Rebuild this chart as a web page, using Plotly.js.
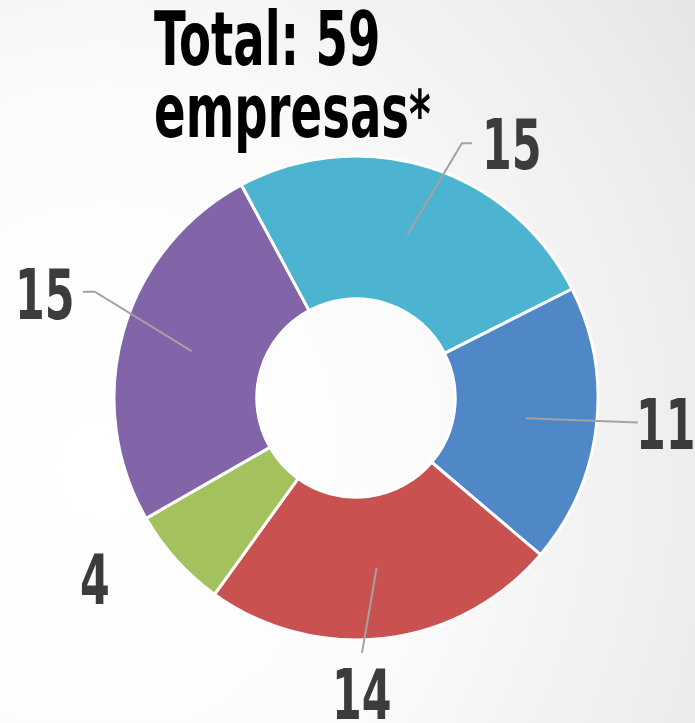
<!DOCTYPE html>
<html>
<head>
<meta charset="utf-8">
<script src="https://cdn.plot.ly/plotly-3.0.1.min.js"></script>
<style>
  html, body { margin: 0; padding: 0; }
  body {
    width: 695px; height: 723px; overflow: hidden;
    background: radial-gradient(ellipse 110% 120% at 15% 65%, #ffffff 0%, #fcfcfc 40%, #eaeaea 85%, #e1e1e1 100%);
  }
  #chart { width: 695px; height: 723px; }
</style>
</head>
<body>
<div id="chart"></div>
<script>
// ---- data ----
const categories = ['A', 'B', 'C', 'D', 'E'];
const values = [15, 11, 14, 4, 15];
const colors = ['#4cb3d0', '#5087c7', '#c9514f', '#a3c15c', '#8165a8'];
const titleLine1 = 'Total: 59';
const titleLine2 = 'empresas<span style="font-size:66px">*</span>';

// ---- geometry / style ----
const W = 695, H = 723;
const cx = 356, cy = 398, R = 242;
const rotation = -28.3;
const labelFont = "'DejaVu Sans Condensed', 'Liberation Sans Narrow', Impact, sans-serif";
const labelSize = 70, labelSqueeze = 0.68;
const titleSize = 74, titleSqueeze = 0.70;
const labelR = [297, 311, 297, 318, 328];
const labelShift = [14.3, -1.8, 5.8, 7.2, 2.4];
const showLine = [true, true, true, false, true];
const elbowR = [276, 283, 255, 0, 282];
const elbowShift = [5.1, -1.8, 5.6, 0, 6.2];
const stubPx = [10, 0, 0, 0, -12];
const lineStartR = 171;

function P(r, deg) {
  const t = deg * Math.PI / 180;
  return [(cx + r * Math.sin(t)) / W, 1 - (cy - r * Math.cos(t)) / H];
}

const total = values.reduce((a, b) => a + b, 0);
let cum = 0;
const annotations = [];
const shapes = [];
const squeeze = [];
values.forEach((v, i) => {
  const mid = rotation + 360 * (cum + v / 2) / total;
  cum += v;
  const lp = P(labelR[i], mid + labelShift[i]);
  annotations.push({
    xref: 'paper', yref: 'paper', x: lp[0], y: lp[1],
    xanchor: 'center', yanchor: 'middle', showarrow: false,
    text: String(v),
    font: { family: labelFont, size: labelSize, color: '#3c3c3c', weight: 'bold' }
  });
  squeeze.push({ s: labelSqueeze, anchor: 'center' });
  if (showLine[i]) {
    const s = P(lineStartR, mid);
    const e = P(elbowR[i], mid + elbowShift[i]);
    let path = `M ${s[0]} ${s[1]} L ${e[0]} ${e[1]}`;
    if (stubPx[i] !== 0) path += ` L ${e[0] + stubPx[i] / W} ${e[1]}`;
    shapes.push({ type: 'path', xref: 'paper', yref: 'paper', path: path,
      line: { color: '#a3a3a3', width: 2 } });
  }
});

annotations.push({
  xref: 'paper', yref: 'paper', x: 152 / W, y: 1 - (65 - 0.35 * titleSize) / H,
  xanchor: 'left', yanchor: 'middle', showarrow: false, text: titleLine1,
  font: { family: labelFont, size: titleSize, color: '#000000', weight: 'bold' }
});
squeeze.push({ s: titleSqueeze, anchor: 'left' });
annotations.push({
  xref: 'paper', yref: 'paper', x: 152 / W, y: 1 - (137 - 0.35 * titleSize) / H,
  xanchor: 'left', yanchor: 'middle', showarrow: false, text: titleLine2,
  font: { family: labelFont, size: titleSize, color: '#000000', weight: 'bold' }
});
squeeze.push({ s: titleSqueeze, anchor: 'left' });

const trace = {
  type: 'pie',
  labels: categories,
  values: values,
  sort: false,
  direction: 'clockwise',
  rotation: rotation,
  hole: 0.41,
  textinfo: 'none',
  hoverinfo: 'none',
  marker: { colors: colors, line: { color: '#ffffff', width: 3 } },
  domain: { x: [(cx - R) / W, (cx + R) / W], y: [1 - (cy + R) / H, 1 - (cy - R) / H] },
  showlegend: false
};

const layout = {
  width: W, height: H,
  margin: { l: 0, r: 0, t: 0, b: 0 },
  paper_bgcolor: 'rgba(0,0,0,0)',
  plot_bgcolor: 'rgba(0,0,0,0)',
  showlegend: false,
  annotations: annotations,
  shapes: shapes
};

Plotly.newPlot('chart', [trace], layout, { displayModeBar: false, staticPlot: true }).then(gd => {
  // condense the bold text horizontally to mimic the reference's condensed display face
  const texts = gd.querySelectorAll('.annotation .annotation-text');
  texts.forEach((t, k) => {
    const cfg = squeeze[k];
    if (!cfg) return;
    const bb = t.getBBox();
    const x0 = cfg.anchor === 'left' ? bb.x : bb.x + bb.width / 2;
    t.setAttribute('transform', `translate(${x0},0) scale(${cfg.s},1) translate(${-x0},0)`);
  });
});
</script>
</body>
</html>
